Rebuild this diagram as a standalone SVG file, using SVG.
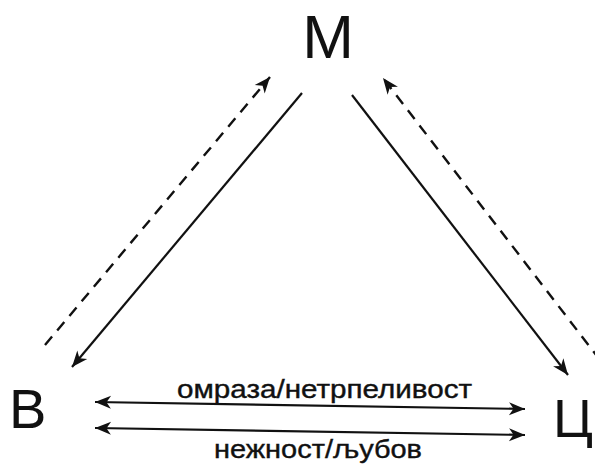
<svg xmlns="http://www.w3.org/2000/svg" width="595" height="464" viewBox="0 0 595 464">
  <style>
    .node { font-family: "Liberation Sans", Arial, sans-serif; fill: #111; }
    .label { font-family: "Liberation Sans", Arial, sans-serif; font-size: 26px; fill: #111; stroke: #111; stroke-width: 0.4; }
    .solid { stroke: #111; stroke-width: 2.2; fill: none; }
    .dashed { stroke: #111; stroke-width: 2.4; fill: none; stroke-dasharray: 11 8; }
  </style>
  <defs>
    <marker id="head" viewBox="-17 -8 18 16" refX="0" refY="0" markerWidth="18" markerHeight="16" markerUnits="userSpaceOnUse" orient="auto-start-reverse">
      <path d="M0,0 L-16,-6.5 L-11.5,0 L-16,6.5 Z" fill="#111"/>
    </marker>
  </defs>

  <!-- vertices of the triangle -->
  <g id="node-M">
    <text class="node" x="328" y="58" font-size="62" text-anchor="middle">М</text>
  </g>
  <g id="node-V">
    <text class="node" x="9" y="428" font-size="56">В</text>
  </g>
  <g id="node-C">
    <text class="node" x="553" y="437" font-size="54">Ц</text>
  </g>

  <!-- arrows between the vertices -->
  <g id="connectors">
    <line class="solid" x1="302" y1="93" x2="72" y2="367" marker-end="url(#head)"/>
    <line class="dashed" x1="45" y1="345" x2="270" y2="77" marker-end="url(#head)"/>
    <line class="solid" x1="352" y1="95" x2="568" y2="375" marker-end="url(#head)"/>
    <line class="dashed" x1="600" y1="360" x2="383" y2="78" marker-end="url(#head)"/>
    <line class="solid" x1="95" y1="402" x2="525" y2="409" marker-start="url(#head)" marker-end="url(#head)"/>
    <line class="solid" x1="95" y1="428" x2="525" y2="435" marker-start="url(#head)" marker-end="url(#head)"/>
  </g>

  <!-- labels of the horizontal pair -->
  <g id="labels">
    <text class="label" x="177" y="398" textLength="295" lengthAdjust="spacingAndGlyphs">омраза/нетрпеливост</text>
    <text class="label" x="214" y="458" textLength="208" lengthAdjust="spacingAndGlyphs">нежност/љубов</text>
  </g>
</svg>
